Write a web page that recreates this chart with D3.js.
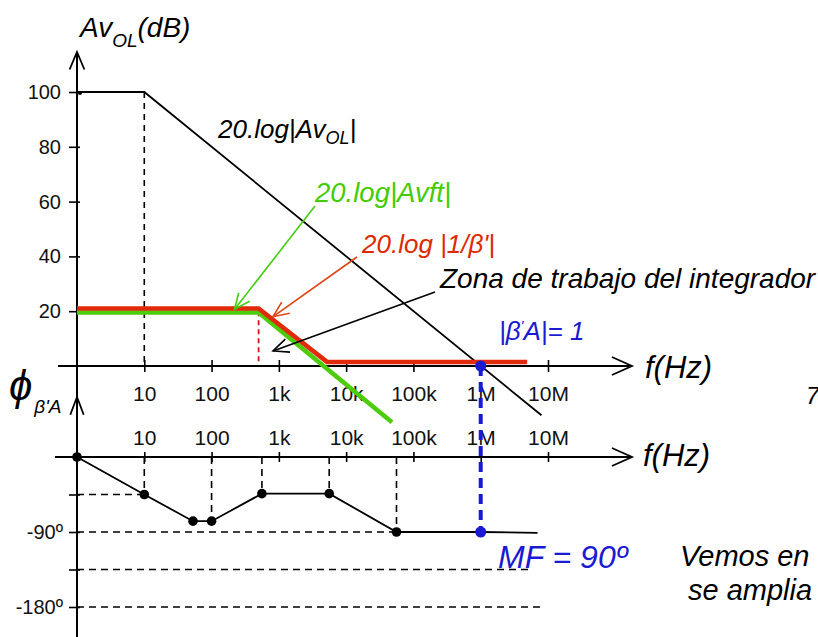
<!DOCTYPE html>
<html>
<head>
<meta charset="utf-8">
<script src="https://cdnjs.cloudflare.com/ajax/libs/d3/7.8.5/d3.min.js"></script>
<style>
body{margin:0;background:#fff;}
svg{display:block;font-family:"Liberation Sans",Arial,sans-serif;}
.it{font-style:italic;}
</style>
</head>
<body>
<div id="chart"></div>
<script>
// frequency axis (log), gain axis (dB), phase axis (deg)
var freqTicks = [10, 100, 1e3, 1e4, 1e5, 1e6, 1e7];
var freqLabels = ["10", "100", "1k", "10k", "100k", "1M", "10M"];
var gainTicks = [20, 40, 60, 80, 100];
var phaseTicks = [-45, -90, -135, -180];
var phaseTickLabels = ["", "-90º", "", "-180º"];

// asymptotic curves [f(Hz), value]
var avol = [[1, 100], [10, 100], [8e6, -18]];           // 20.log|AvOL|
var invBeta = [[1, 21], [500, 21], [5200, 1.5], [4.9e6, 1.5]]; // 20.log|1/beta'|
var avft = [[1, 19.5], [500, 19.5], [48000, -20.5]];    // 20.log|Avft|
var phase = [[1, 0], [10, -45], [53, -77], [100, -77], [560, -44], [5600, -44], [56000, -90], [1e6, -90], [7e6, -91]];
var phaseDots = [[1, 0], [10, -45], [53, -77], [100, -77], [560, -44], [5600, -44], [56000, -90]];
var phaseVGuides = [[10, -45], [100, -77], [560, -44], [5600, -44], [56000, -90]];
var phaseHGuides = [[10, -45], [56000, -90], [6e6, -135], [8.5e6, -180]];
var fBreak = 500, fCross = 1e6, fTop = 10;

var W = 818, H = 637;
var svg = d3.select("#chart").append("svg").attr("width", W).attr("height", H);

var x = d3.scaleLog().domain([1, 1e7]).range([77, 548]);
var yA = d3.scaleLinear().domain([0, 100]).range([366, 92]);
var yP = d3.scaleLinear().domain([0, -180]).range([457, 607]);

var lineA = d3.line().x(function(d){ return x(d[0]); }).y(function(d){ return yA(d[1]); });
var lineP = d3.line().x(function(d){ return x(d[0]); }).y(function(d){ return yP(d[1]); });

function vee(g, tx, ty, ang, len, spread, color, w) {
    // open arrowhead, ang = direction the arrow points to
    var a1 = ang + Math.PI - spread, a2 = ang + Math.PI + spread;
    g.append("path")
        .attr("d", "M" + (tx + len * Math.cos(a1)) + "," + (ty + len * Math.sin(a1)) +
            "L" + tx + "," + ty +
            "L" + (tx + len * Math.cos(a2)) + "," + (ty + len * Math.sin(a2)))
        .attr("fill", "none").attr("stroke", color).attr("stroke-width", w);
}
function arrow(g, x1, y1, x2, y2, color, w) {
    g.append("line").attr("x1", x1).attr("y1", y1).attr("x2", x2).attr("y2", y2)
        .attr("stroke", color).attr("stroke-width", w);
    vee(g, x2, y2, Math.atan2(y2 - y1, x2 - x1), 17, 0.42, color, w);
}

// ---- guides (dashed)
svg.append("line").attr("x1", x(fTop)).attr("x2", x(fTop)).attr("y1", yA(100)).attr("y2", yA(0))
    .attr("stroke", "#000").attr("stroke-width", 1.6).attr("stroke-dasharray", "6,5");
svg.append("line").attr("x1", x(fBreak)).attr("x2", x(fBreak)).attr("y1", yA(20)).attr("y2", yA(0))
    .attr("stroke", "#dd1111").attr("stroke-width", 1.8).attr("stroke-dasharray", "5,4");

svg.selectAll(".vguide").data(phaseVGuides).enter().append("line")
    .attr("x1", function(d){ return x(d[0]); }).attr("x2", function(d){ return x(d[0]); })
    .attr("y1", yP(0)).attr("y2", function(d){ return yP(d[1]); })
    .attr("stroke", "#000").attr("stroke-width", 1.6).attr("stroke-dasharray", "7,5");
svg.selectAll(".hguide").data(phaseHGuides).enter().append("line")
    .attr("x1", x(1)).attr("x2", function(d){ return x(d[0]); })
    .attr("y1", function(d){ return yP(d[1]); }).attr("y2", function(d){ return yP(d[1]); })
    .attr("stroke", "#000").attr("stroke-width", 1.6).attr("stroke-dasharray", "7,5");

// ---- axes
var axTop = svg.append("g").attr("transform", "translate(0," + yA(0) + ")")
    .call(d3.axisBottom(x).tickValues(freqTicks).tickFormat(function(d, i){ return freqLabels[i]; }));
var axBot = svg.append("g").attr("transform", "translate(0," + yP(0) + ")")
    .call(d3.axisTop(x).tickValues(freqTicks).tickFormat(function(d, i){ return freqLabels[i]; }));
var axG = svg.append("g").attr("transform", "translate(" + x(1) + ",0)")
    .call(d3.axisLeft(yA).tickValues(gainTicks));
var axP = svg.append("g").attr("transform", "translate(" + x(1) + ",0)")
    .call(d3.axisLeft(yP).tickValues(phaseTicks).tickFormat(function(d, i){ return phaseTickLabels[i]; }));

[axTop, axBot, axG, axP].forEach(function(a){
    a.select(".domain").remove();
    a.attr("font-family", "Liberation Sans, Arial, sans-serif").attr("font-size", 20);
    a.selectAll("text").attr("font-size", 20).attr("fill", "#111");
    a.selectAll("line").attr("stroke", "#000").attr("stroke-width", 1.6);
});
axTop.selectAll("text").attr("font-size", 21);
axBot.selectAll("text").attr("font-size", 21);
axTop.selectAll(".tick line").attr("y1", -6).attr("y2", 6);
axTop.selectAll(".tick text").attr("y", 35).attr("dy", 0);
axBot.selectAll(".tick line").attr("y1", -5).attr("y2", 5);
axBot.selectAll(".tick text").attr("y", -12).attr("dy", 0);
axG.selectAll(".tick line").attr("x1", -8).attr("x2", 3);
axG.selectAll(".tick text").attr("x", -16);
axP.selectAll(".tick line").attr("x1", -8).attr("x2", 3);
axP.selectAll(".tick text").attr("x", -14);

// axis lines with open arrowheads
var axes = svg.append("g");
axes.append("line").attr("x1", x(1)).attr("x2", x(1)).attr("y1", 52).attr("y2", H)
    .attr("stroke", "#000").attr("stroke-width", 2);
vee(axes, x(1), 52, -Math.PI / 2, 19, 0.4, "#000", 1.8);
vee(axes, x(1), 397, -Math.PI / 2, 19, 0.36, "#000", 1.8);
axes.append("line").attr("x1", 58).attr("x2", 632).attr("y1", yA(0)).attr("y2", yA(0))
    .attr("stroke", "#000").attr("stroke-width", 2);
vee(axes, 632, yA(0), 0, 22, 0.42, "#000", 1.8);
axes.append("line").attr("x1", 55).attr("x2", 632).attr("y1", yP(0)).attr("y2", yP(0))
    .attr("stroke", "#000").attr("stroke-width", 2);
vee(axes, 632, yP(0), 0, 22, 0.42, "#000", 1.8);

// ---- magnitude curves
svg.append("path").datum(avol).attr("d", lineA).attr("fill", "none").attr("stroke", "#000").attr("stroke-width", 1.8);
svg.append("path").datum(avft).attr("d", lineA).attr("fill", "none").attr("stroke", "#4ccc0a").attr("stroke-width", 4.5);
svg.append("path").datum(invBeta).attr("d", lineA).attr("fill", "none").attr("stroke", "#e02a0a").attr("stroke-width", 4.5);
svg.append("circle").attr("cx", x(1) + 3).attr("cy", yA(100) + 1).attr("r", 2).attr("fill", "#000");

// ---- phase curve
svg.append("path").datum(phase).attr("d", lineP).attr("fill", "none").attr("stroke", "#000").attr("stroke-width", 1.8);
svg.selectAll(".pdot").data(phaseDots).enter().append("circle")
    .attr("cx", function(d){ return x(d[0]); }).attr("cy", function(d){ return yP(d[1]); })
    .attr("r", 4.8).attr("fill", "#000");

// ---- crossover |beta'A| = 1
svg.append("line").attr("x1", x(fCross)).attr("x2", x(fCross)).attr("y1", yA(0)).attr("y2", yP(-90))
    .attr("stroke", "#1a1ad2").attr("stroke-width", 4).attr("stroke-dasharray", "10,6");
svg.append("circle").attr("cx", x(fCross)).attr("cy", yA(0)).attr("r", 5.5).attr("fill", "#1a1ad2");
svg.append("circle").attr("cx", x(fCross)).attr("cy", yP(-90)).attr("r", 5.5).attr("fill", "#1a1ad2");

// ---- annotation arrows
arrow(svg, 315, 206, x(220), yA(20.7), "#44cc11", 1.6);
arrow(svg, 357, 257, x(820), yA(18), "#dd4411", 1.6);
arrow(svg, 435, 292, x(820), yA(5.5), "#000", 1.6);

// ---- texts
function txt(xp, yp, size, color, cls) {
    return svg.append("text").attr("x", xp).attr("y", yp).attr("font-size", size)
        .attr("fill", color).attr("class", cls || "it");
}
var t = txt(80, 37, 28, "#000");
t.append("tspan").text("Av");
t.append("tspan").attr("font-size", 19).attr("dy", 10).text("OL");
t.append("tspan").attr("dy", -10).text("(dB)");

t = txt(218, 138, 26, "#000");
t.append("tspan").text("20.log|Av");
t.append("tspan").attr("font-size", 18).attr("dy", 6).text("OL");
t.append("tspan").attr("dy", -6).text("|");

txt(315, 202, 27.5, "#44cc00").text("20.log|Avft|");
txt(362, 253, 26, "#dd2a00").text("20.log |1/β'|");
txt(440, 288, 28, "#000").text("Zona de trabajo del integrador");

t = txt(499, 340, 26, "#1a1ad2");
t.append("tspan").text("|β");
t.append("tspan").attr("font-size", 15).attr("dy", -9).text("'");
t.append("tspan").attr("dy", 9).text("A|= 1");

txt(645, 378, 31, "#000").text("f(Hz)");
txt(643, 466, 31, "#000").text("f(Hz)");

// phase axis title: phi with subscript
t = txt(9, 400, 42, "#000");
t.append("tspan").text("ϕ");
t.append("tspan").attr("font-size", 19).attr("dy", 13).attr("dx", 2).text("β'A");

txt(498, 568, 32, "#1a1ad2").text("MF = 90º");
txt(680, 566, 29, "#000").text("Vemos en");
txt(688, 600, 29, "#000").text("se amplia");
txt(806, 404, 24, "#000").text("7");
</script>
</body>
</html>
